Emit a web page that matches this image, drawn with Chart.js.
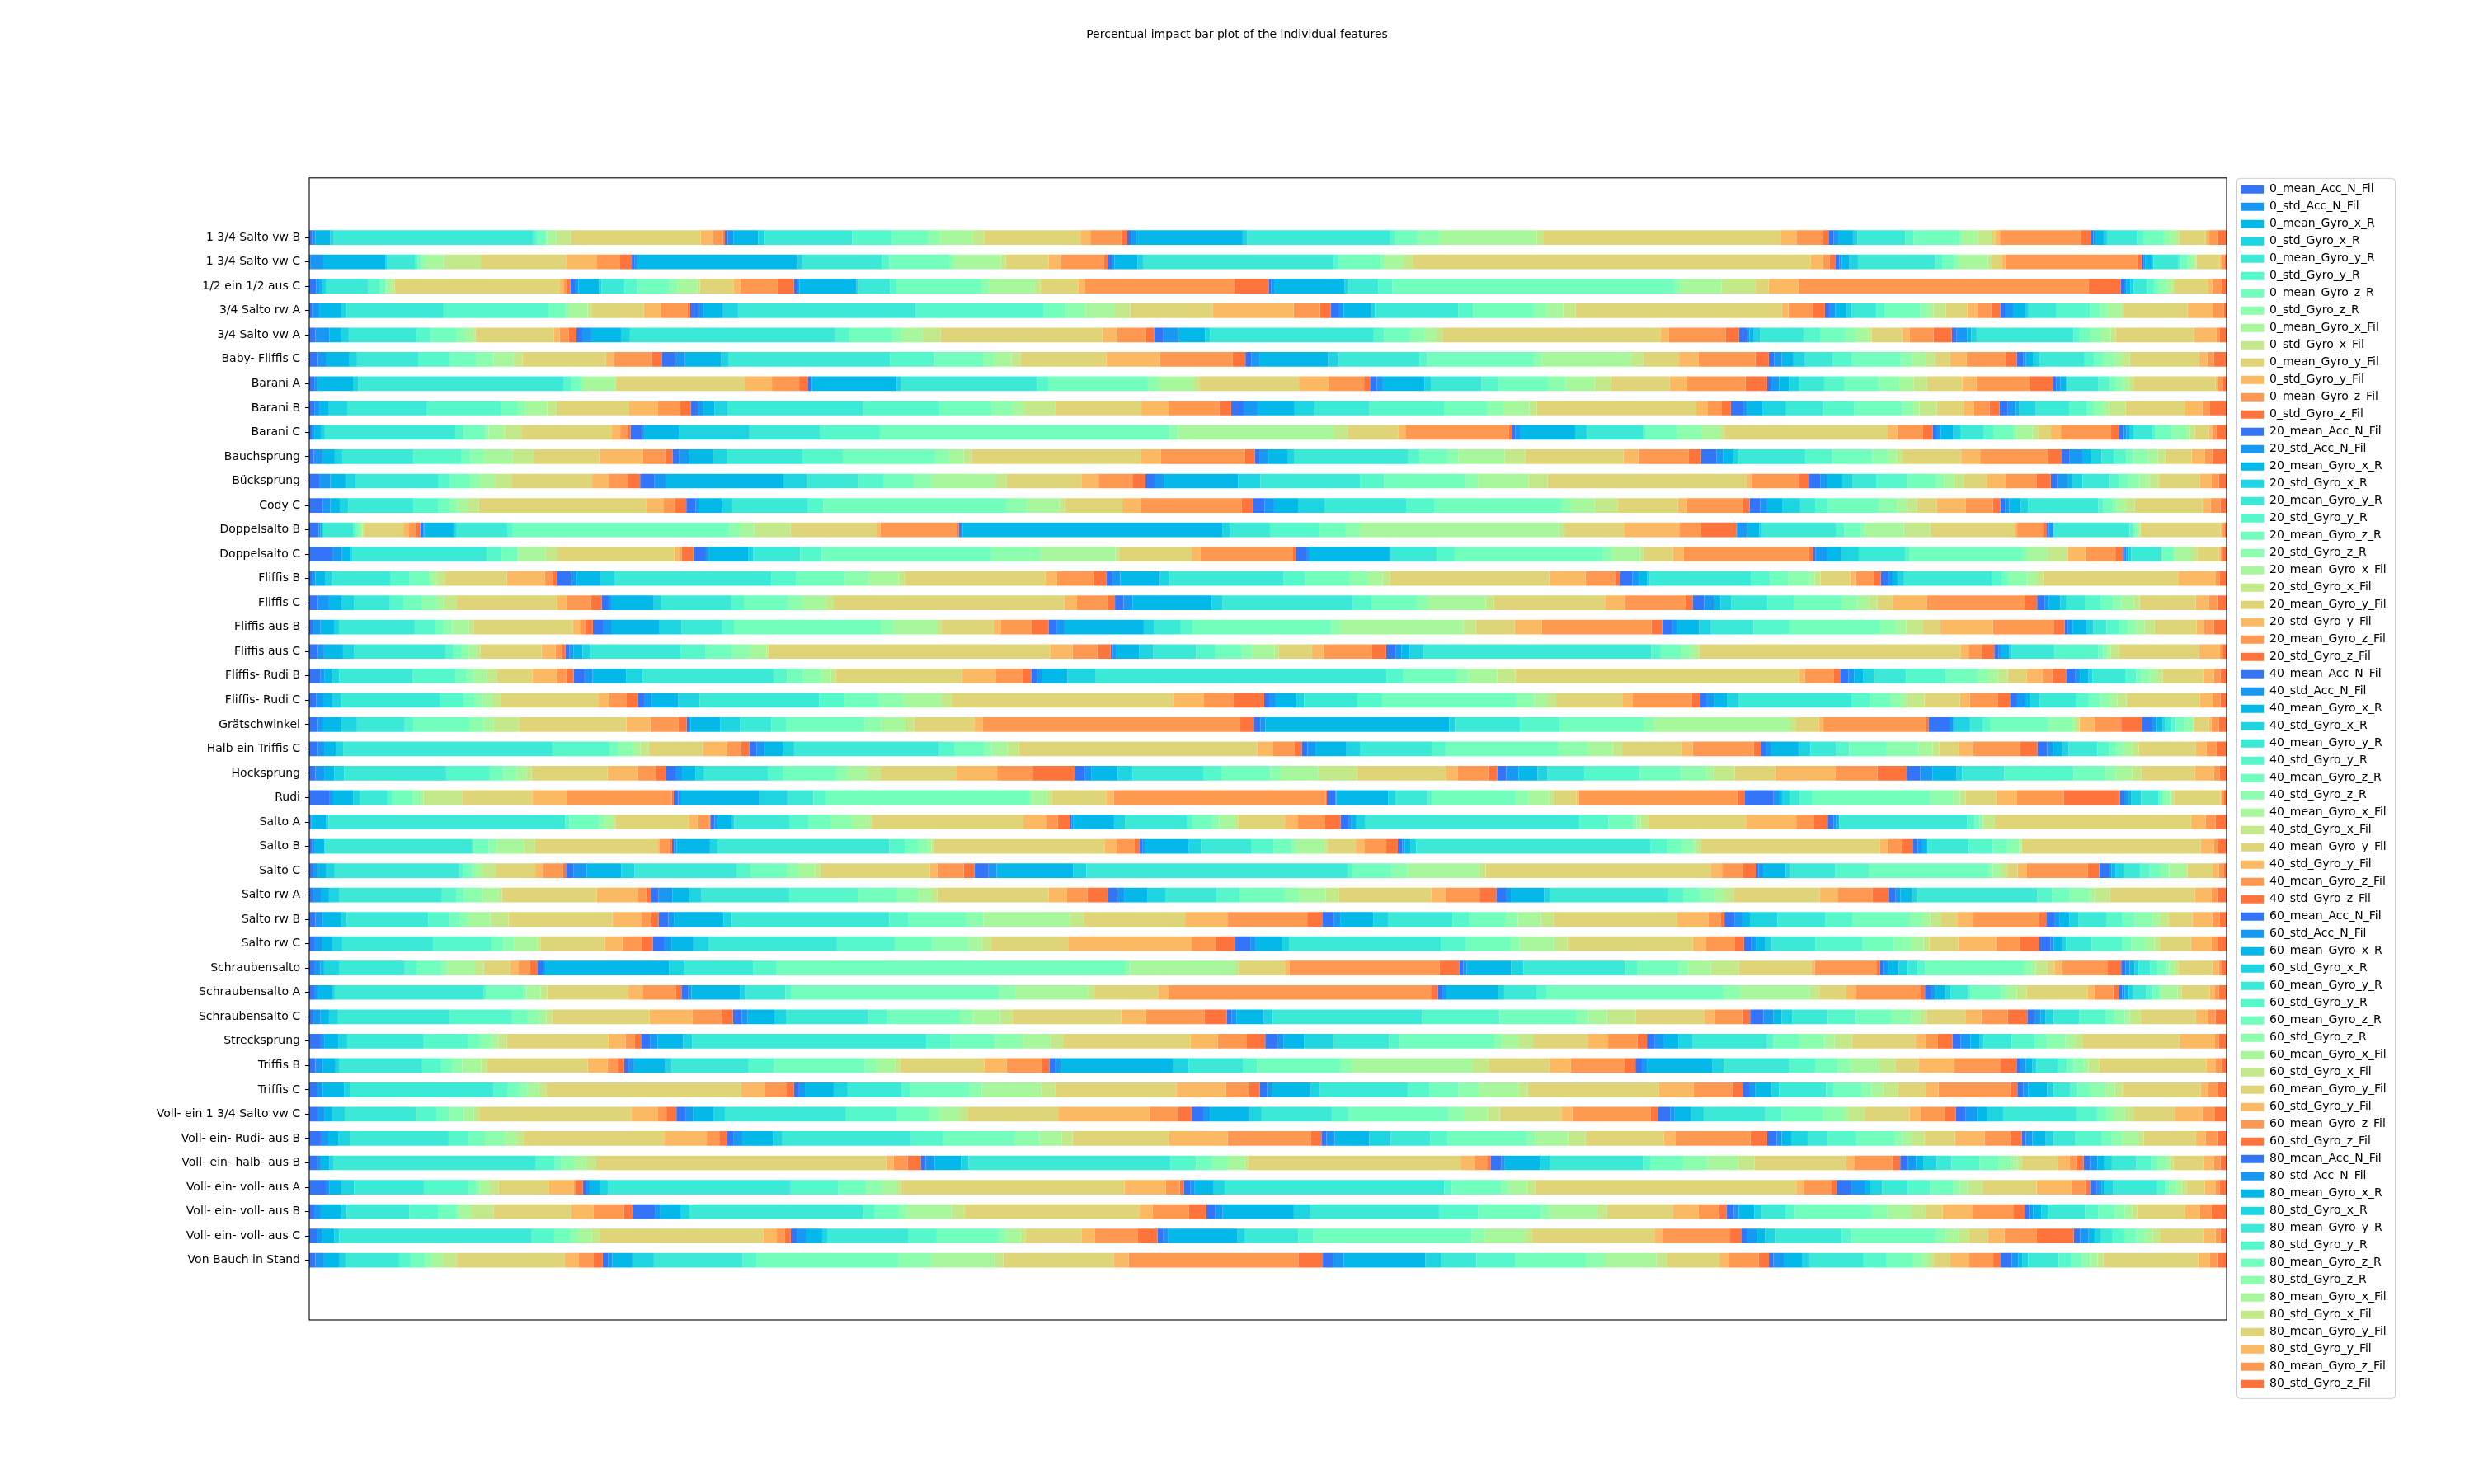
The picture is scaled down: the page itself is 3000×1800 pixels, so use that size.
<!DOCTYPE html>
<html>
<head>
<meta charset="utf-8">
<title>Percentual impact bar plot of the individual features</title>
<script src="https://cdn.jsdelivr.net/npm/chart.js@4.4.1/dist/chart.umd.min.js"></script>
<style>
  html, body { margin: 0; padding: 0; background: #fff; }
  #wrap { width: 3000px; height: 1800px; }
</style>
</head>
<body>
<div id="wrap"><canvas id="chart" width="3000" height="1800"></canvas></div>
<script>
(function() {

const exercises = [
    '1 3/4 Salto vw B', '1 3/4 Salto vw C', '1/2 ein 1/2 aus C', '3/4 Salto rw A',
    '3/4 Salto vw A', 'Baby- Fliffis C', 'Barani A', 'Barani B', 'Barani C',
    'Bauchsprung', 'Bücksprung', 'Cody C', 'Doppelsalto B', 'Doppelsalto C',
    'Fliffis B', 'Fliffis C', 'Fliffis aus B', 'Fliffis aus C', 'Fliffis- Rudi B',
    'Fliffis- Rudi C', 'Grätschwinkel', 'Halb ein Triffis C', 'Hocksprung', 'Rudi',
    'Salto A', 'Salto B', 'Salto C', 'Salto rw A', 'Salto rw B', 'Salto rw C',
    'Schraubensalto', 'Schraubensalto A', 'Schraubensalto C', 'Strecksprung',
    'Triffis B', 'Triffis C', 'Voll- ein 1 3/4 Salto vw C', 'Voll- ein- Rudi- aus B',
    'Voll- ein- halb- aus B', 'Voll- ein- voll- aus A', 'Voll- ein- voll- aus B',
    'Voll- ein- voll- aus C', 'Von Bauch in Stand'
];

const windows = [0, 20, 40, 60, 80];

const features = [
    'mean_Acc_N_Fil', 'std_Acc_N_Fil', 'mean_Gyro_x_R', 'std_Gyro_x_R',
    'mean_Gyro_y_R', 'std_Gyro_y_R', 'mean_Gyro_z_R', 'std_Gyro_z_R',
    'mean_Gyro_x_Fil', 'std_Gyro_x_Fil', 'mean_Gyro_y_Fil', 'std_Gyro_y_Fil',
    'mean_Gyro_z_Fil', 'std_Gyro_z_Fil'
];

// impact in percent, one row per exercise (order of `exercises`), one column per feature
const share0 = [
    [0.16,0.16,0.78,0.19,10.52,0.18,0.50,0.05,0.49,0.76,6.84,0.65,0.52,0.10],
    [0.05,0.68,3.24,0.08,1.46,0.13,0.19,0.24,0.97,1.91,4.45,1.62,1.20,0.61],
    [0.36,0.16,0.16,0.18,2.22,0.61,0.28,0.05,0.32,0.11,8.62,0.19,0.19,0.16],
    [0.16,0.36,1.12,0.26,5.11,5.50,0.89,0.16,0.97,0.23,2.70,0.91,1.38,0.13],
    [0.32,0.74,0.61,0.39,3.56,0.73,1.33,0.49,0.40,0.11,4.08,0.31,0.47,0.39],
    [0.45,0.45,1.20,0.39,3.22,1.60,1.41,0.89,1.05,0.47,4.35,0.42,1.99,0.50],
    [0.29,0.13,1.86,0.26,10.71,0.42,0.44,0.21,1.62,0.10,6.67,1.42,1.42,0.47],
    [0.29,0.23,0.47,0.99,4.13,3.90,0.87,0.40,1.13,0.49,3.79,1.50,1.17,0.55],
    [0.13,0.16,0.31,0.21,6.80,0.44,1.12,0.19,0.81,0.89,4.72,0.44,0.42,0.11],
    [0.24,0.44,0.65,0.39,3.71,2.49,0.50,0.73,1.47,1.08,3.43,2.28,1.17,0.39],
    [0.52,0.58,0.79,0.52,4.34,0.60,1.04,0.52,0.78,0.86,4.22,0.86,0.99,0.65],
    [0.70,0.40,0.49,0.44,3.40,1.29,0.60,0.42,0.52,0.60,8.74,0.91,0.60,0.57],
    [0.49,0.08,0.08,0.08,1.55,0.13,0.13,0.13,0.11,0.10,2.07,0.26,0.36,0.23],
    [1.17,0.52,0.47,0.08,7.01,0.78,0.81,0.05,1.42,0.60,6.12,0.32,0.08,0.61],
    [0.13,0.19,0.53,0.34,3.06,0.99,1.00,0.16,0.24,0.45,3.22,1.97,0.39,0.26],
    [0.45,0.58,0.65,0.65,1.88,0.70,0.95,0.79,0.40,0.65,5.24,0.52,1.25,0.55],
    [0.19,0.40,0.70,0.29,3.92,1.08,0.39,0.49,0.87,0.24,5.18,0.36,0.29,0.39],
    [0.45,0.32,0.99,0.57,4.77,0.42,0.40,0.39,0.44,0.19,3.17,0.74,0.34,0.18],
    [0.57,0.21,0.39,0.39,3.82,2.23,0.58,0.40,0.68,0.53,1.84,1.29,0.47,0.39],
    [0.37,0.36,0.47,0.44,5.16,1.25,0.58,0.39,0.53,0.44,5.11,0.55,0.91,0.60],
    [0.45,0.28,0.95,0.81,2.49,0.44,2.96,0.73,0.52,1.34,5.58,1.25,1.47,0.42],
    [0.45,0.36,0.57,0.39,10.92,3.01,0.40,0.78,0.40,0.44,2.83,1.25,0.74,0.42],
    [0.32,0.49,0.49,0.52,5.32,2.28,0.71,0.68,0.52,0.28,3.96,1.59,0.95,0.52],
    [1.04,0.21,1.04,0.34,1.46,0.23,1.07,0.45,0.13,2.02,3.67,1.81,5.49,0.10],
    [0.08,0.02,0.78,0.13,12.35,0.21,1.55,0.31,0.45,0.10,3.83,0.49,0.60,0.06],
    [0.16,0.10,0.52,0.03,7.67,0.10,0.78,0.42,1.44,0.57,6.42,0.08,0.50,0.15],
    [0.19,0.23,0.44,0.47,6.50,0.19,0.49,0.19,0.39,0.65,2.07,0.40,1.04,0.16],
    [0.19,0.45,0.39,0.55,5.34,0.76,0.40,0.94,0.87,0.16,4.95,2.14,0.44,0.26],
    [0.32,0.40,0.95,0.29,4.26,1.08,0.55,0.45,1.15,0.94,5.42,1.50,0.52,0.39],
    [0.26,0.39,0.55,0.52,4.74,3.04,0.63,0.55,1.21,0.19,3.35,0.91,0.99,0.60],
    [0.26,0.32,0.19,0.78,3.43,0.65,1.25,0.32,1.41,0.50,1.38,0.44,0.60,0.39],
    [0.26,0.21,0.73,0.13,7.75,0.16,1.94,0.16,0.74,0.34,4.22,0.76,1.73,0.29],
    [0.19,0.40,0.44,0.47,5.81,3.27,0.78,0.61,0.40,0.31,5.08,2.23,1.54,0.57],
    [0.60,0.21,0.70,0.47,4.00,2.33,0.60,0.60,0.37,0.45,5.29,0.91,0.47,0.34],
    [0.32,0.40,0.65,0.18,4.34,0.99,0.57,0.53,1.00,0.31,5.24,1.04,0.57,0.29],
    [0.39,0.31,1.12,0.29,7.52,0.70,0.60,0.47,0.60,0.36,10.19,1.25,1.12,0.37],
    [0.47,0.34,0.39,0.65,3.71,1.07,0.66,0.78,0.52,0.32,7.91,1.38,0.44,0.52],
    [0.60,0.39,0.52,0.60,5.16,1.04,0.86,0.99,0.65,0.39,7.35,2.20,0.65,0.42],
    [0.42,0.18,0.44,0.21,10.58,0.99,0.34,0.73,0.57,0.52,15.14,0.39,0.73,0.68],
    [0.86,0.18,0.60,0.70,3.64,2.33,0.39,0.19,0.49,0.49,2.65,1.29,0.13,0.34],
    [0.26,0.34,1.04,0.31,3.27,1.50,0.95,0.16,0.61,1.18,4.05,1.17,1.59,0.44],
    [0.39,0.26,0.65,0.26,10.02,1.20,0.86,0.39,0.71,0.45,8.51,0.70,0.42,0.31],
    [0.32,0.45,0.78,0.34,2.80,0.60,0.73,0.39,0.57,0.73,5.63,0.73,0.78,0.47]
];

const share20 = [
    [0.15,0.32,1.29,0.34,4.61,2.10,1.89,0.65,1.70,0.61,5.08,0.52,1.63,0.32],
    [0.16,0.13,8.33,0.28,4.16,0.39,3.14,0.24,2.43,0.26,2.23,0.65,2.23,0.23],
    [0.24,0.19,1.07,0.13,1.21,0.65,1.68,0.42,1.04,0.13,1.75,0.36,1.97,0.82],
    [0.42,0.31,0.99,0.78,9.29,6.67,1.12,1.05,1.50,0.84,4.30,4.23,1.38,0.55],
    [0.31,0.47,1.55,0.47,10.71,0.73,2.28,0.45,1.10,0.94,8.43,0.78,1.50,0.42],
    [0.70,0.52,1.89,0.39,8.43,2.28,2.56,0.57,0.91,0.49,4.47,2.80,3.79,0.66],
    [0.15,0.03,4.43,0.24,7.06,0.61,5.19,0.57,1.80,0.31,5.20,1.54,1.86,0.34],
    [0.36,0.26,0.60,0.68,7.07,4.00,2.70,1.12,0.60,1.60,4.51,1.42,2.65,0.61],
    [0.61,0.10,1.81,3.69,3.66,3.14,15.11,0.44,8.15,0.70,2.65,0.36,5.40,0.18],
    [0.34,0.49,1.25,0.76,3.93,2.10,4.81,0.74,0.76,0.42,8.83,1.04,4.39,0.52],
    [0.73,0.60,6.15,1.22,2.67,1.33,1.59,0.92,3.33,0.60,3.92,0.87,1.80,0.65],
    [0.49,0.19,1.17,0.55,3.92,0.83,9.50,1.13,1.68,0.32,2.98,0.99,5.24,0.60],
    [0.16,0.03,1.54,0.13,2.70,0.26,11.31,0.57,0.73,1.89,4.50,0.19,4.01,0.08],
    [0.65,0.10,2.10,0.26,2.46,1.12,8.80,2.64,3.88,0.19,3.79,0.47,4.82,0.13],
    [0.73,0.31,1.25,0.73,8.17,1.29,2.54,1.25,1.54,0.36,7.31,0.60,1.89,0.68],
    [0.36,0.13,2.23,0.39,3.66,0.65,2.30,0.76,1.23,0.40,12.04,0.65,1.63,0.36],
    [0.52,0.47,2.49,1.13,2.14,0.61,7.65,0.65,2.28,0.26,2.70,0.39,1.63,0.86],
    [0.21,0.21,0.47,0.39,4.74,1.28,1.38,0.92,0.89,0.08,14.71,1.17,1.29,0.70],
    [0.57,0.42,1.76,0.86,6.81,0.71,0.82,0.95,0.52,0.26,6.57,1.76,1.38,0.47],
    [0.31,0.39,1.38,1.12,6.24,1.33,1.76,1.29,1.97,0.57,11.54,1.62,1.54,1.60],
    [0.11,0.10,1.55,1.04,1.63,0.78,4.09,0.87,1.23,0.47,3.14,0.44,13.45,0.70],
    [0.39,0.44,0.94,0.57,7.57,0.81,1.55,0.39,0.81,0.61,12.43,0.81,1.12,0.39],
    [0.52,0.34,0.68,0.44,3.35,0.78,2.72,0.60,1.04,0.73,3.92,2.15,1.89,2.15],
    [0.24,0.15,4.09,1.47,1.36,0.65,10.63,0.16,0.76,0.28,2.85,0.37,11.10,0.05],
    [0.19,0.11,0.81,0.11,2.90,0.96,1.17,1.13,0.89,0.13,7.91,1.17,0.63,0.61],
    [0.10,0.13,1.75,0.39,8.98,0.83,0.66,0.53,0.18,0.13,8.90,0.60,0.95,0.26],
    [0.39,0.70,1.80,0.70,5.32,0.73,1.89,0.61,0.87,0.29,5.71,0.39,1.38,0.57],
    [0.39,0.73,0.86,0.65,4.60,3.55,2.02,1.17,0.68,0.29,5.81,0.95,1.07,1.08],
    [0.52,0.31,2.57,0.42,8.22,0.99,3.01,0.91,4.51,0.73,5.29,2.20,4.17,0.81],
    [0.57,0.39,1.15,0.78,6.71,3.01,1.97,1.89,0.68,0.49,4.05,6.41,1.29,0.99],
    [0.26,0.13,6.46,0.78,3.61,1.20,18.20,0.28,5.49,0.21,2.38,0.24,7.83,1.04],
    [0.34,0.18,2.54,0.31,2.05,0.32,10.82,0.86,3.82,0.31,3.32,0.55,13.69,0.37],
    [0.47,0.31,1.42,0.60,4.26,0.99,3.79,0.71,1.39,0.65,5.68,1.29,3.04,1.17],
    [0.47,0.39,1.34,0.47,12.26,1.25,2.31,1.46,1.47,0.68,6.63,1.41,1.50,0.99],
    [0.26,0.26,1.63,0.34,4.01,1.33,4.73,0.63,0.95,0.26,4.39,1.17,1.84,0.39],
    [0.27,0.31,1.50,0.73,2.83,0.44,3.07,0.66,3.09,0.73,6.33,2.59,1.20,0.57],
    [0.47,0.39,1.07,0.60,6.32,2.64,1.67,0.57,1.02,0.44,4.77,4.72,1.50,0.70],
    [0.31,0.47,1.60,0.50,6.71,1.68,3.71,1.31,1.18,0.55,5.03,3.06,4.35,0.55],
    [0.26,0.47,1.38,0.39,10.55,1.33,0.83,0.86,0.86,0.16,11.10,0.73,0.65,0.18],
    [0.18,0.21,0.52,0.39,9.55,2.49,1.44,0.81,0.78,0.24,11.67,2.15,0.73,0.21],
    [1.17,0.29,1.04,0.47,9.05,0.63,1.25,0.42,2.36,0.66,9.13,0.68,1.89,0.91],
    [0.31,0.47,0.86,0.26,4.22,1.50,3.27,0.32,0.79,0.26,2.91,0.70,2.23,1.04],
    [0.29,0.21,1.05,1.12,4.64,0.73,7.39,1.72,3.32,0.44,5.76,0.78,8.86,1.28]
];

const share40 = [
    [0.19,0.26,5.63,0.23,7.51,0.26,1.21,1.15,5.13,0.34,12.52,0.83,1.38,0.31],
    [0.19,0.15,1.20,0.31,9.93,0.26,2.18,0.24,0.92,0.52,20.77,0.65,0.34,0.31],
    [0.19,0.10,2.98,0.08,1.68,0.34,4.39,0.42,2.39,0.29,1.97,0.34,7.78,1.81],
    [0.45,0.24,1.42,0.21,4.34,0.78,3.14,0.70,0.86,0.65,10.75,0.36,1.25,0.65],
    [0.49,0.76,1.42,0.26,8.53,0.55,1.34,0.76,0.58,0.39,11.33,0.44,2.96,0.70],
    [0.32,0.44,3.56,0.52,4.26,0.39,5.55,0.42,4.66,0.65,1.86,1.02,2.96,0.70],
    [0.32,0.32,2.18,0.32,2.65,0.86,2.62,0.91,1.49,0.87,3.06,0.89,3.06,1.13],
    [0.65,0.73,1.93,1.00,2.91,3.92,2.23,0.83,1.36,0.39,8.32,0.60,0.73,0.47],
    [0.16,0.23,2.88,0.60,2.93,0.13,1.65,1.31,0.95,0.26,8.47,0.50,1.34,0.52],
    [0.26,0.42,1.04,0.31,5.94,0.60,1.50,0.55,2.41,1.08,5.11,0.78,2.62,0.65],
    [0.47,0.49,3.87,1.17,5.20,1.25,4.22,0.68,2.64,0.99,10.42,0.23,2.50,0.52],
    [0.60,0.49,1.25,1.38,4.26,1.47,6.62,0.52,1.23,1.21,3.14,0.47,2.93,0.34],
    [0.10,0.11,13.54,0.39,2.10,2.59,1.33,0.78,10.39,0.28,3.14,2.85,1.15,1.83],
    [0.60,0.13,4.17,0.08,2.38,0.94,7.73,0.52,1.42,0.18,1.54,0.57,6.53,0.21],
    [0.29,0.44,2.07,0.47,5.99,1.12,2.33,0.95,0.76,0.39,8.30,1.89,1.54,0.26],
    [0.45,0.47,4.13,0.57,6.80,0.99,2.33,0.61,2.99,0.44,5.79,1.04,3.14,0.39],
    [0.40,0.42,4.13,0.52,1.41,0.61,7.21,0.52,6.39,0.66,2.02,1.42,5.71,0.57],
    [0.11,0.16,1.23,0.73,2.23,0.99,1.38,0.57,1.15,0.23,1.72,0.60,2.54,0.73],
    [0.31,0.26,1.33,1.47,15.18,0.86,2.75,0.65,1.50,0.95,14.78,0.31,1.50,0.34],
    [0.26,0.34,1.04,0.44,2.78,1.29,7.01,0.92,0.68,0.47,3.45,0.55,3.09,0.44],
    [0.34,0.26,9.60,0.31,3.40,2.05,4.40,0.55,7.05,0.31,1.23,0.23,5.37,0.11],
    [0.31,0.44,1.59,0.73,3.71,0.73,5.89,1.52,1.31,0.49,3.14,0.55,3.19,0.39],
    [0.55,0.32,1.39,0.78,3.71,0.91,2.56,0.58,1.93,2.02,4.64,0.61,1.59,0.47],
    [0.45,0.05,2.72,0.36,1.67,0.23,4.39,0.68,1.07,0.28,1.15,0.13,8.30,0.39],
    [0.10,0.10,2.12,0.57,3.22,0.26,1.04,0.40,0.81,0.19,2.43,0.68,1.42,0.81],
    [0.18,0.11,2.28,0.65,2.62,1.17,0.94,0.26,1.47,0.13,1.50,0.47,1.12,0.60],
    [0.73,0.42,4.01,0.68,13.64,0.26,2.02,0.86,3.74,0.34,11.75,0.60,1.08,0.68],
    [0.47,0.39,1.20,0.95,2.65,1.21,2.33,0.76,1.39,0.68,4.82,0.73,1.80,0.87],
    [0.57,0.34,1.73,0.76,3.37,0.86,1.89,0.65,1.21,0.68,6.44,1.63,0.65,0.18],
    [0.78,0.29,1.34,0.42,7.91,1.29,2.33,0.47,1.81,0.68,6.54,0.70,1.50,0.47],
    [0.19,0.19,2.31,0.65,5.29,0.65,2.15,0.53,1.15,1.46,3.78,0.18,3.22,0.18],
    [0.23,0.21,2.67,0.34,1.68,0.55,9.21,0.83,3.69,0.49,1.41,0.49,3.35,0.26],
    [0.26,0.26,1.42,0.47,7.78,4.05,4.00,0.65,0.95,1.50,3.56,0.57,1.42,0.42],
    [0.61,0.36,1.07,1.50,2.93,0.52,4.98,0.42,0.83,0.78,2.88,1.04,1.54,0.49],
    [0.32,0.28,5.84,0.83,2.83,0.74,4.34,0.60,6.28,0.87,3.17,1.12,2.80,0.57],
    [0.37,0.26,1.99,0.52,4.60,1.12,1.50,1.07,2.07,0.49,6.83,1.81,2.02,0.55],
    [0.65,0.34,2.02,0.65,3.66,0.86,5.24,0.79,1.23,0.65,3.24,0.55,4.09,0.37],
    [0.26,0.44,1.80,1.12,2.07,0.91,4.13,0.42,1.73,0.91,4.08,0.60,3.92,0.88],
    [0.57,0.18,1.83,0.52,4.87,0.39,1.72,1.25,1.59,0.86,4.78,0.42,1.99,0.42],
    [0.34,0.23,0.99,0.60,11.44,0.39,2.59,0.39,0.94,0.42,13.64,0.39,1.42,0.29],
    [0.47,0.39,3.71,0.86,6.72,2.05,3.27,0.44,2.49,0.52,3.43,1.34,1.07,0.39],
    [0.31,0.26,3.61,0.39,2.79,0.78,8.25,0.68,2.15,0.31,6.41,0.39,3.56,0.57],
    [0.52,0.57,4.26,0.81,1.86,2.02,3.69,0.99,2.69,0.58,2.72,0.47,1.58,0.53]
];

const share60 = [
    [0.28,0.23,0.78,0.23,2.52,0.44,2.39,0.16,0.84,0.73,0.18,0.26,4.26,0.55],
    [0.19,0.13,0.40,0.44,4.03,0.39,0.60,0.26,1.50,0.23,0.52,0.16,6.88,0.23],
    [0.13,0.16,3.66,0.18,1.60,0.73,14.68,0.32,2.15,1.76,0.70,1.55,15.13,1.68],
    [0.26,0.29,0.57,0.29,1.29,0.42,1.86,0.39,0.29,0.65,1.12,0.52,0.73,0.49],
    [0.42,0.13,0.23,0.34,2.28,0.86,1.29,0.58,0.63,0.16,1.59,0.39,1.25,0.95],
    [0.29,0.39,0.61,0.60,1.46,0.99,2.54,0.60,0.74,0.47,0.78,0.86,2.02,0.60],
    [0.21,0.42,0.52,0.49,1.33,1.07,1.78,1.08,0.73,0.71,1.84,0.74,2.78,1.21],
    [0.61,0.24,0.82,1.21,1.93,1.63,2.49,0.58,0.32,0.91,1.42,0.52,0.81,0.52],
    [0.18,0.24,0.65,0.39,1.17,0.55,1.02,0.16,0.84,0.31,0.65,0.52,2.62,0.42],
    [0.81,0.34,0.52,0.26,3.52,1.39,2.10,0.81,0.45,0.32,3.06,0.99,3.56,0.70],
    [0.57,0.34,0.81,0.52,1.25,1.60,1.50,0.45,0.52,0.53,1.20,0.95,1.63,0.73],
    [0.56,0.36,0.81,0.91,0.81,0.65,2.64,0.95,0.52,0.53,1.04,1.50,1.42,0.39],
    [0.03,0.53,0.64,0.15,3.87,0.42,0.87,0.21,2.02,1.39,4.40,0.13,1.34,0.21],
    [0.13,0.61,0.73,0.91,2.41,0.24,5.86,0.36,0.95,1.04,0.05,0.91,1.57,0.39],
    [0.65,0.36,0.42,0.13,5.29,0.99,0.95,1.12,0.26,0.29,1.55,0.31,0.89,0.39],
    [0.60,0.52,0.34,0.57,1.89,1.38,2.49,0.83,0.58,0.45,0.81,1.76,5.11,0.65],
    [0.49,0.29,1.15,0.61,2.23,1.85,4.74,0.84,0.53,0.87,0.89,2.75,3.17,0.57],
    [0.49,0.31,0.42,0.73,11.88,0.50,1.04,0.50,0.32,0.16,13.64,0.40,0.71,0.63],
    [0.44,0.29,0.49,0.55,1.68,2.05,1.63,0.60,0.49,0.52,0.99,0.81,0.52,0.73],
    [0.34,0.36,0.68,0.60,5.90,0.94,1.08,0.58,0.29,0.91,1.86,0.52,1.47,0.65],
    [1.10,0.18,0.11,0.78,0.65,0.42,3.01,1.26,0.10,0.26,0.02,0.76,1.41,1.08],
    [0.26,0.26,1.42,0.63,1.34,0.68,1.94,1.68,0.73,0.34,1.04,0.73,2.44,0.91],
    [0.47,0.65,0.99,0.52,1.94,2.88,2.15,1.33,0.39,1.08,2.10,3.14,2.20,1.54],
    [1.50,0.31,0.13,0.39,0.52,0.68,6.15,1.20,0.36,0.31,1.59,1.07,2.46,2.93],
    [0.40,0.16,0.26,0.47,11.18,1.50,1.29,0.18,0.21,0.42,5.08,2.62,0.91,0.73],
    [0.23,0.13,0.29,0.31,12.22,0.86,0.78,0.65,0.11,0.26,9.34,0.39,0.73,0.61],
    [0.15,0.24,1.18,0.21,2.36,1.76,6.28,0.21,0.45,0.29,0.55,0.49,3.17,0.61],
    [0.50,0.26,1.73,0.29,6.20,0.78,0.86,0.78,0.55,0.44,4.48,0.94,1.81,0.86],
    [0.52,0.42,0.39,1.43,2.49,1.42,3.01,0.68,0.37,0.58,0.86,0.78,3.45,0.42],
    [0.39,0.26,0.47,0.34,2.28,2.46,1.63,0.91,0.63,0.31,1.50,1.97,1.25,1.00],
    [0.16,0.26,0.57,0.47,0.52,0.39,5.11,0.44,0.21,0.60,0.39,0.39,2.36,0.73],
    [0.29,0.23,0.52,0.29,0.91,0.13,1.59,0.31,0.52,0.52,3.17,0.36,0.99,0.29],
    [0.70,0.52,0.42,0.57,1.84,1.47,1.84,1.04,0.49,0.32,2.02,0.83,1.38,1.02],
    [0.42,0.44,0.78,0.76,3.88,0.34,1.34,1.33,0.52,0.91,3.30,0.57,0.60,0.78],
    [0.34,0.26,3.40,0.60,3.40,1.38,1.17,0.65,1.50,0.86,1.21,1.88,2.41,0.83],
    [0.34,0.31,0.86,0.39,2.46,0.39,1.46,0.49,0.63,0.78,1.46,0.65,3.75,0.37],
    [0.65,0.23,0.86,0.65,3.22,0.86,2.12,1.12,0.26,0.86,2.31,0.57,1.29,0.55],
    [0.50,0.26,0.49,0.86,1.04,1.50,2.01,0.39,0.49,0.66,1.60,1.55,1.34,0.60],
    [0.39,0.44,0.37,0.70,0.78,1.46,0.99,0.65,0.34,0.23,1.89,0.60,0.34,0.39],
    [0.74,0.76,0.23,0.65,1.33,1.17,1.20,0.34,0.44,0.73,2.85,1.80,0.73,0.26],
    [0.39,0.26,0.81,0.40,1.25,0.47,4.00,0.83,1.21,0.79,0.87,1.54,2.15,0.60],
    [0.29,0.52,0.44,0.52,3.48,0.49,4.42,0.52,0.70,0.52,0.99,0.86,1.68,1.93],
    [0.24,0.57,0.91,0.42,2.80,1.17,1.38,0.52,0.34,0.26,0.86,0.99,1.25,0.39]
];

const share80 = [
    [0.10,0.10,0.45,0.18,1.59,0.34,1.04,0.36,0.32,0.16,1.39,0.19,0.42,0.49],
    [0.10,0.10,0.32,0.10,1.28,0.15,0.36,0.18,0.24,0.05,1.20,0.11,0.15,0.10],
    [0.16,0.13,0.23,0.16,0.70,0.36,0.24,0.42,0.26,0.16,1.73,0.23,0.47,0.28],
    [0.26,0.39,0.68,0.13,1.46,1.76,0.52,0.39,0.71,0.16,3.30,1.33,0.55,0.16],
    [0.26,0.55,0.21,0.28,5.06,0.31,0.53,0.60,0.50,0.26,4.08,1.17,0.16,0.37],
    [0.34,0.13,0.39,0.34,2.33,0.50,0.44,0.61,0.44,0.37,3.61,0.44,0.34,0.66],
    [0.16,0.23,0.28,0.05,1.65,0.58,0.32,0.39,0.28,0.29,4.24,0.13,0.26,0.19],
    [0.44,0.42,0.18,0.86,1.76,0.91,0.39,0.40,0.36,0.87,3.09,0.91,0.39,0.87],
    [0.19,0.19,0.18,0.21,0.95,0.16,0.83,0.79,0.18,0.26,0.74,0.16,0.23,0.53],
    [0.39,0.68,0.44,0.57,0.63,0.65,0.36,0.76,0.52,0.39,1.38,0.70,0.39,0.74],
    [0.34,0.52,0.26,0.55,1.42,0.47,0.49,0.58,0.52,0.49,2.15,0.60,0.39,0.40],
    [0.26,0.21,0.60,0.39,3.66,0.26,0.47,0.23,0.47,0.47,3.53,0.42,0.52,0.32],
    [0.10,0.23,0.02,0.02,3.95,0.18,0.11,0.13,0.13,0.02,4.17,0.11,0.11,0.10],
    [0.08,0.11,0.13,0.11,1.55,0.08,0.55,0.11,0.84,0.31,1.13,0.10,0.10,0.21],
    [0.37,0.28,0.23,0.34,4.60,0.52,0.32,1.00,0.45,0.37,7.07,1.91,0.23,0.36],
    [0.39,0.21,0.61,0.29,0.99,0.83,0.65,0.44,0.63,0.31,2.93,0.68,0.44,0.49],
    [0.18,0.26,0.73,0.34,0.68,0.65,0.44,0.45,0.44,0.53,2.18,0.39,0.52,0.66],
    [0.21,0.16,0.42,0.13,2.23,2.28,0.26,0.20,0.19,0.44,4.16,1.07,0.16,0.21],
    [0.49,0.23,0.45,0.21,1.73,0.55,0.26,0.44,0.40,0.28,2.10,0.57,0.34,0.32],
    [0.34,0.39,0.26,0.52,1.89,0.68,0.58,0.50,0.42,0.47,3.83,0.68,0.39,0.32],
    [0.52,0.21,0.34,0.15,0.34,0.21,0.44,0.45,0.03,0.02,0.79,0.13,0.39,0.40],
    [0.52,0.31,0.47,0.34,1.50,0.60,0.36,0.39,0.47,0.34,2.98,0.55,0.52,0.53],
    [0.70,0.65,1.25,0.29,2.20,3.61,1.63,0.57,0.86,0.47,2.80,0.99,0.31,0.36],
    [0.21,0.23,0.15,0.53,0.91,0.08,0.16,0.36,0.05,0.16,2.43,0.06,0.13,0.13],
    [0.32,0.11,0.16,0.02,6.67,0.39,0.26,0.16,0.02,0.61,10.24,0.76,0.52,0.58],
    [0.23,0.24,0.26,0.02,2.15,1.25,0.73,0.65,0.13,0.02,9.32,0.70,0.21,0.45],
    [0.50,0.13,0.23,0.42,0.86,0.49,0.53,0.49,0.83,0.13,1.33,0.31,0.24,0.16],
    [0.34,0.26,0.60,0.26,6.28,0.78,0.91,1.04,0.29,0.78,4.43,0.86,0.31,0.49],
    [0.39,0.26,0.52,0.47,1.46,0.83,0.65,0.94,0.37,0.45,1.25,1.04,0.39,0.36],
    [0.60,0.16,0.44,0.21,1.34,1.59,0.47,0.73,0.47,0.29,1.62,1.07,0.34,0.45],
    [0.23,0.21,0.26,0.21,0.60,0.36,0.47,0.18,0.28,0.19,1.76,0.34,0.15,0.26],
    [0.18,0.13,0.21,0.23,0.68,0.34,0.31,0.13,0.86,0.21,1.47,0.26,0.21,0.40],
    [0.36,0.34,0.26,0.42,1.34,1.38,0.44,0.55,0.26,0.55,2.90,0.63,0.39,0.58],
    [0.42,0.52,0.49,0.21,1.46,1.21,0.63,0.97,0.45,0.47,5.03,1.86,0.21,0.40],
    [0.16,0.31,0.34,0.23,1.12,0.47,0.34,0.57,0.21,0.57,5.58,0.47,0.36,0.23],
    [0.31,0.26,0.99,0.34,0.87,0.34,0.65,0.81,0.52,0.39,4.08,0.39,0.52,0.45],
    [0.52,0.60,0.52,0.83,3.82,1.08,0.47,0.44,0.55,0.44,2.18,1.42,0.65,0.61],
    [0.21,0.34,0.70,0.42,1.13,1.38,0.52,0.55,0.81,0.31,2.72,0.50,0.61,0.49],
    [0.34,0.39,0.36,0.39,1.28,0.78,0.31,0.47,0.19,0.19,1.54,0.57,0.34,0.32],
    [0.36,0.26,0.13,0.47,2.28,0.42,0.21,0.39,0.26,0.26,0.95,0.55,0.23,0.36],
    [0.23,0.21,0.44,0.34,1.93,0.70,0.86,0.52,0.39,0.26,2.49,0.78,0.60,0.79],
    [0.34,0.44,0.31,0.34,0.60,0.61,0.63,0.47,0.39,0.37,2.25,0.65,0.26,0.32],
    [0.57,0.34,0.21,0.31,1.59,0.65,0.57,0.42,0.39,0.31,4.94,0.61,0.39,0.49]
];

const shares = [share0, share20, share40, share60, share80];

// matplotlib 'rainbow' colormap, 14 samples between 0.15 and 0.85
function rainbow(t) {
    const c = v => Math.round(255 * Math.min(1, Math.max(0, v)));
    return 'rgb(' + c(Math.abs(2 * t - 0.5)) + ',' + c(Math.sin(Math.PI * t)) + ',' +
        c(Math.cos(Math.PI * t / 2)) + ')';
}
const colors = features.map((f, i) => rainbow(0.15 + 0.7 * i / (features.length - 1)));

// widths; rescale each row so it sums to exactly 100 %
const rowTotals = exercises.map((name, r) =>
    shares.reduce((sum, table) => sum + table[r].reduce((a, b) => a + b, 0), 0));

const datasets = [];
windows.forEach((w, wi) => {
    features.forEach((f, fi) => {
        datasets.push({
            label: w + '_' + f,
            data: exercises.map((name, r) => ({x: shares[wi][r][fi] * 100 / rowTotals[r], y: r})),
            backgroundColor: colors[fi],
            borderWidth: 0,
            stack: 'all',
            barPercentage: 0.6,
            categoryPercentage: 1.0
        });
    });
});

const Y_MIN = -2.45, Y_MAX = 44.45;

// axes box and legend frame, plus keeping the legend in one tall column
const frames = {
    id: 'frames',
    afterInit(chart) {
        const legend = chart.legend, fit = legend.fit;
        legend.fit = function () {
            this.maxHeight = 1600;
            fit.call(this);
            this.width = 300;
        };
    },
    afterLayout(chart) {
        const legend = chart.legend;
        legend.left = chart.chartArea.right + 10;
        legend.right = legend.left + 300;
        legend.top = chart.chartArea.top;
        legend.bottom = legend.top + 1500;
        legend.height = 1500;
    },
    beforeDraw(chart) {
        const {ctx, legend} = chart;
        ctx.save();
        ctx.beginPath();
        if (ctx.roundRect) ctx.roundRect(legend.left + 2.5, legend.top + 0.5, 192, 1480, 4);
        else ctx.rect(legend.left + 2.5, legend.top + 0.5, 192, 1480);
        ctx.fillStyle = '#ffffff';
        ctx.fill();
        ctx.strokeStyle = '#cccccc';
        ctx.lineWidth = 1;
        ctx.stroke();
        ctx.restore();
    },
    afterDraw(chart) {
        const {ctx, chartArea: a} = chart;
        ctx.save();
        ctx.strokeStyle = '#000000';
        ctx.lineWidth = 1.1;
        ctx.strokeRect(a.left, a.top, a.right - a.left, a.bottom - a.top);
        ctx.restore();
    }
};

Chart.defaults.font.family = '"DejaVu Sans", sans-serif';
Chart.defaults.font.size = 14;
Chart.defaults.color = '#000000';

const config = {
    type: 'bar',
    data: { datasets: datasets },
    options: {
        indexAxis: 'y',
        responsive: false,
        animation: false,
        devicePixelRatio: 1,
        events: [],
        layout: { padding: { left: 0, right: 0, top: 0, bottom: 199 } },
        plugins: {
            title: {
                display: true,
                text: 'Percentual impact bar plot of the individual features',
                font: { size: 14, weight: 'normal' },
                color: '#000000',
                padding: { top: 34, bottom: 165 }
            },
            legend: {
                position: 'right',
                align: 'start',
                labels: {
                    boxWidth: 28,
                    boxHeight: 10,
                    padding: 7,
                    font: { size: 14 },
                    color: '#000000'
                }
            },
            tooltip: { enabled: false }
        },
        scales: {
            x: {
                type: 'linear',
                display: false,
                stacked: true,
                min: 0,
                max: 100
            },
            y: {
                type: 'linear',
                reverse: true,
                offset: false,
                bounds: 'data',
                min: Y_MIN,
                max: Y_MAX,
                afterBuildTicks: scale => {
                    scale.ticks = exercises.map((name, i) => ({value: i}));
                    scale.min = Y_MIN;
                    scale.max = Y_MAX;
                },
                afterFit: scale => { scale.width = 375; },
                ticks: {
                    autoSkip: false,
                    padding: 6,
                    color: '#000000',
                    font: { size: 14 },
                    callback: value => exercises[value]
                },
                grid: {
                    offset: false,
                    drawOnChartArea: false,
                    drawTicks: true,
                    tickLength: 5,
                    tickWidth: 1.1,
                    tickColor: '#000000'
                },
                border: { display: false }
            }
        }
    },
    plugins: [frames]
};

window.onload = function () {
    const ctx = document.getElementById('chart').getContext('2d');
    new Chart(ctx, config);
};

})();
</script>
</body>
</html>
